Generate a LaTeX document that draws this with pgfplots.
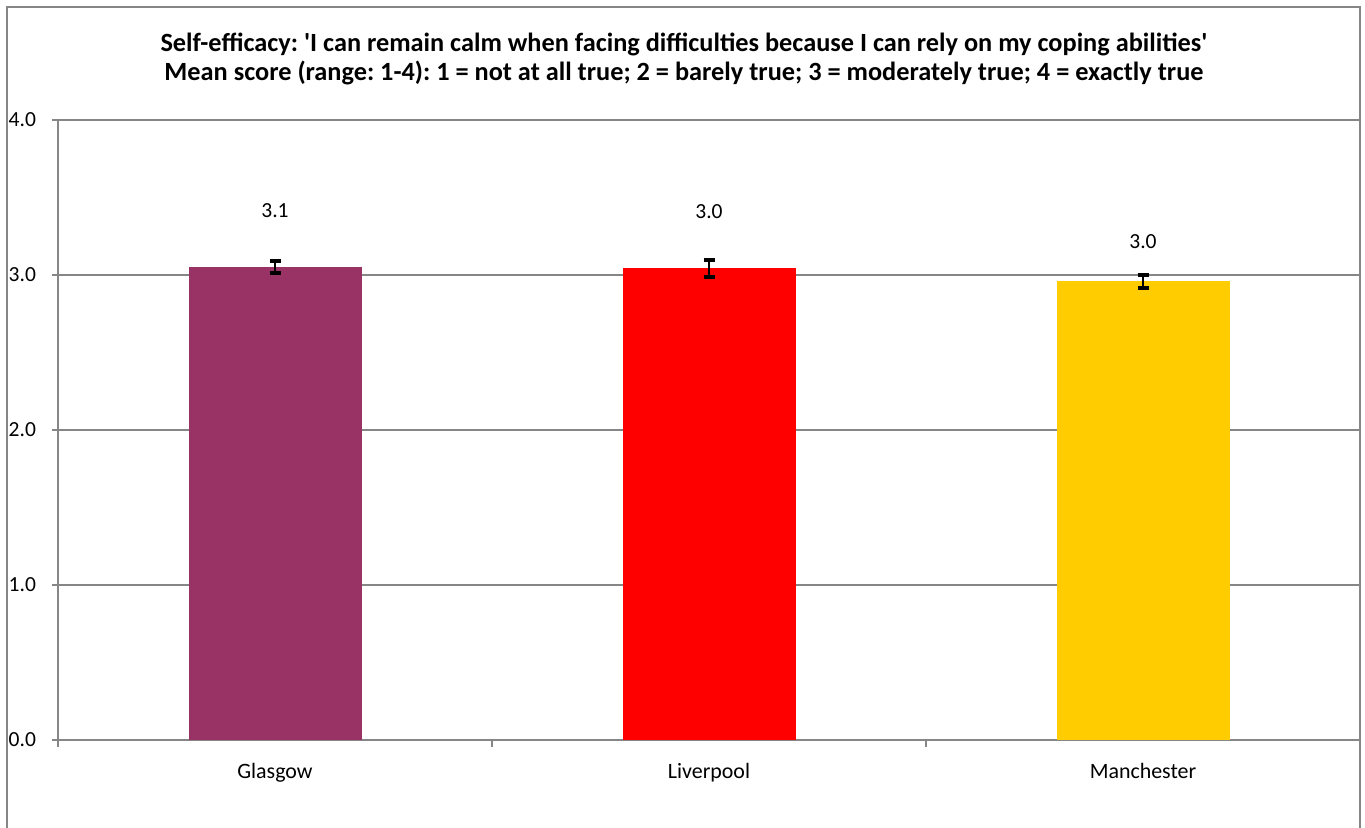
\documentclass[border=0pt]{standalone}
\usepackage{pgfplots}
\pgfplotsset{compat=1.18}
\usepackage{fontspec}
\setmainfont{Carlito}
\frenchspacing
\definecolor{glas}{HTML}{993366}
\definecolor{liv}{HTML}{FF0000}
\definecolor{man}{HTML}{FFCC00}
\definecolor{axgray}{HTML}{868686}
\begin{document}
\begin{tikzpicture}
\useasboundingbox (0bp,0bp) rectangle (682.5bp,414bp);
\draw[axgray, line width=0.75bp] (3.5bp,-10bp) -- (3.5bp,410.5bp) -- (680bp,410.5bp) -- (680bp,-10bp);
\node[align=center, font=\fontsize{13.2}{14.2}\selectfont\bfseries] at (342bp,384.5bp)
 {Self-efficacy: \textquotesingle I can remain calm when facing difficulties because I can rely on my coping abilities\textquotesingle\\
  Mean score (range: 1-4): 1 = not at all true; 2 = barely true; 3 = moderately true; 4 = exactly true};
\begin{axis}[
  at={(29bp,44bp)}, anchor=south west,
  scale only axis, width=651bp, height=310bp,
  xmin=-0.5, xmax=2.5, ymin=0, ymax=4,
  axis x line*=bottom, axis y line*=left,
  axis line style={axgray, line width=0.75bp},
  xtick={0,1,2}, xticklabels={Glasgow,Liverpool,Manchester},
  minor xtick={-0.5,0.5,1.5},
  major x tick style={draw=none},
  minor tick length=3.5bp,
  tick align=outside,
  tick style={axgray, line width=0.75bp},
  ytick={0,1,2,3,4},
  major tick length=3bp,
  ymajorgrids, grid style={axgray, line width=0.6bp},
  /pgf/number format/assume math mode=true,
  yticklabel style={/pgf/number format/fixed, /pgf/number format/fixed zerofill, /pgf/number format/precision=1, xshift=-4.5bp, font=\fontsize{10.8}{11}\selectfont},
  xticklabel style={yshift=-5bp, font=\fontsize{11}{12}\selectfont},
  clip=false,
]
\addplot[ybar, bar shift=0pt, bar width=86.5bp, fill=glas, draw=none,
  error bars/.cd, y dir=both, y explicit,
  error bar style={black, line width=1bp},
  error mark options={rotate=90, mark size=2.75bp, line width=2bp, black}]
  coordinates {(0,3.052) +- (0,0.041)};
\addplot[ybar, bar shift=0pt, bar width=86.5bp, fill=liv, draw=none,
  error bars/.cd, y dir=both, y explicit,
  error bar style={black, line width=1bp},
  error mark options={rotate=90, mark size=2.75bp, line width=2bp, black}]
  coordinates {(1,3.045) +- (0,0.055)};
\addplot[ybar, bar shift=0pt, bar width=86.5bp, fill=man, draw=none,
  error bars/.cd, y dir=both, y explicit,
  error bar style={black, line width=1bp},
  error mark options={rotate=90, mark size=2.75bp, line width=2bp, black}]
  coordinates {(2,2.961) +- (0,0.042)};
\addplot[draw=none, mark=none, nodes near coords, point meta=explicit symbolic,
  every node near coord/.append style={anchor=center, font=\fontsize{10.8}{11}\selectfont, text=black}]
  table[meta=lab] {
x y lab
0 3.415 3.1
1 3.406 3.0
2 3.215 3.0
};
\end{axis}
\end{tikzpicture}
\end{document}
